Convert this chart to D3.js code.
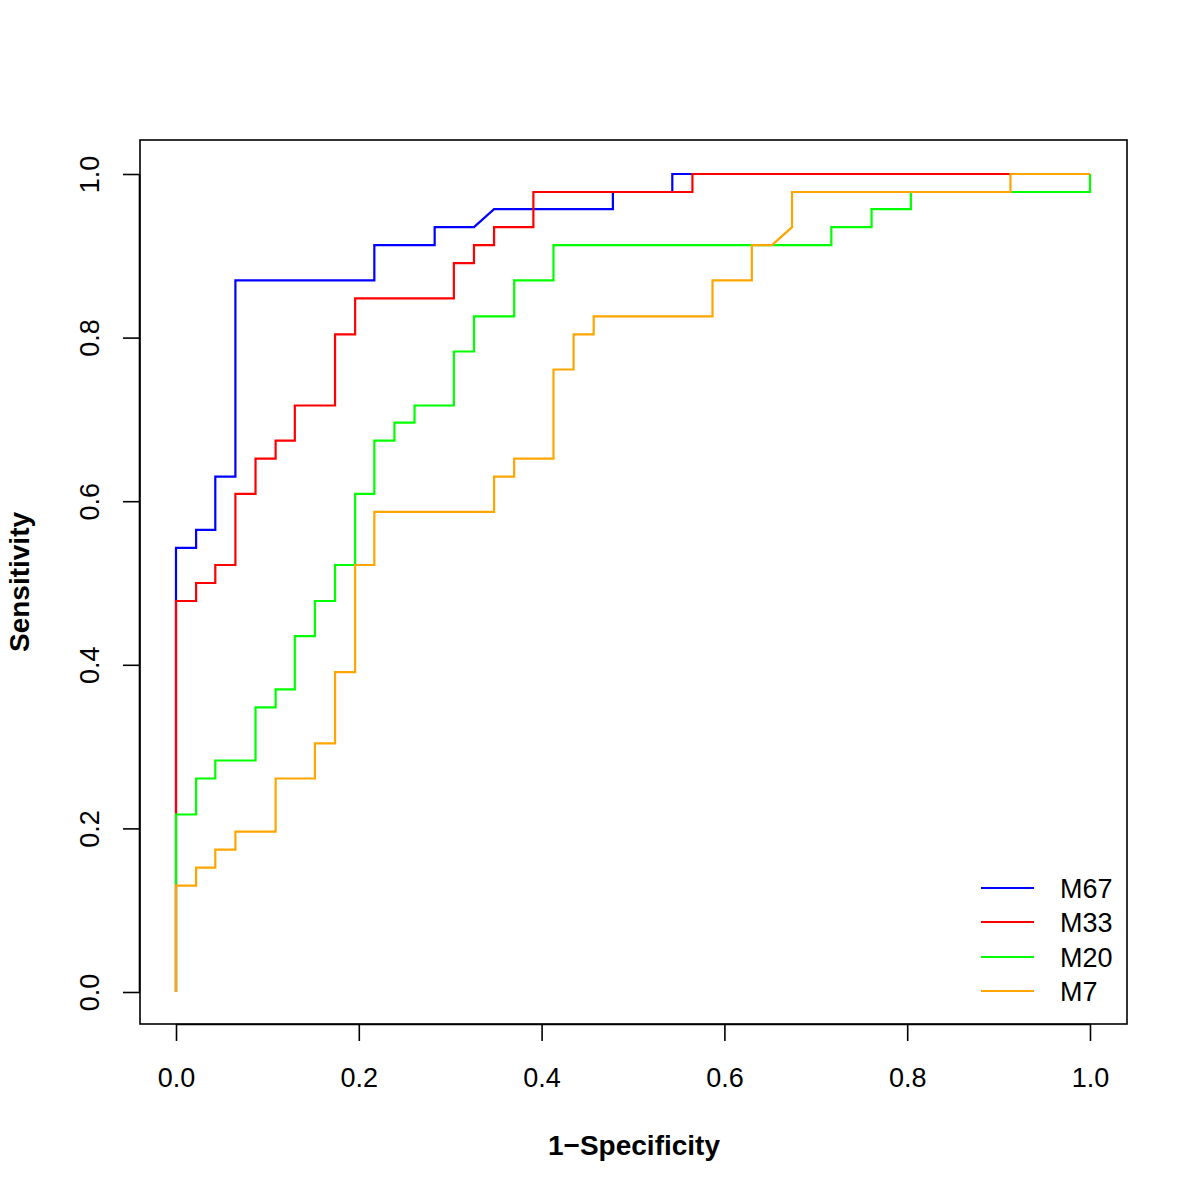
<!DOCTYPE html>
<html><head><meta charset="utf-8">
<script src="https://cdn.jsdelivr.net/npm/d3@7"></script>
<style>body{margin:0;background:#fff}svg{display:block}text{font-family:"Liberation Sans",Arial,Helvetica,sans-serif}</style>
</head><body>
<script>
const seriesNames = ["M67", "M33", "M20", "M7"];
const seriesColors = ["#0000FF", "#FF0000", "#00FF00", "#FFA500"];
const xTicks = [0.0, 0.2, 0.4, 0.6, 0.8, 1.0];
const yTicks = [0.0, 0.2, 0.4, 0.6, 0.8, 1.0];

const m67_fpr = [0,0,0.022,0.022,0.043,0.043,0.065,0.065,0.217,0.217,0.283,0.283,0.326,0.348,0.478,0.478,0.543,0.543,1];
const m67_tpr = [0,0.543,0.543,0.565,0.565,0.630,0.630,0.870,0.870,0.913,0.913,0.935,0.935,0.957,0.957,0.978,0.978,1,1];

const m33_fpr = [0,0,0.022,0.022,0.043,0.043,0.065,0.065,0.087,0.087,0.109,0.109,0.130,0.130,0.174,0.174,0.196,0.196,0.304,0.304,0.326,0.326,0.348,0.348,0.391,0.391,0.565,0.565,1];
const m33_tpr = [0,0.478,0.478,0.500,0.500,0.522,0.522,0.609,0.609,0.652,0.652,0.674,0.674,0.717,0.717,0.804,0.804,0.848,0.848,0.891,0.891,0.913,0.913,0.935,0.935,0.978,0.978,1,1];

const m20_fpr = [0,0,0.022,0.022,0.043,0.043,0.087,0.087,0.109,0.109,0.130,0.130,0.152,0.152,0.174,0.174,0.196,0.196,0.217,0.217,0.239,0.239,0.261,0.261,0.304,0.304,0.326,0.326,0.370,0.370,0.413,0.413,0.717,0.717,0.761,0.761,0.804,0.804,1,1];
const m20_tpr = [0,0.217,0.217,0.261,0.261,0.283,0.283,0.348,0.348,0.370,0.370,0.435,0.435,0.478,0.478,0.522,0.522,0.609,0.609,0.674,0.674,0.696,0.696,0.717,0.717,0.783,0.783,0.826,0.826,0.870,0.870,0.913,0.913,0.935,0.935,0.957,0.957,0.978,0.978,1];

const m7_fpr = [0,0,0.022,0.022,0.043,0.043,0.065,0.065,0.109,0.109,0.152,0.152,0.174,0.174,0.196,0.196,0.217,0.217,0.348,0.348,0.370,0.370,0.413,0.413,0.435,0.435,0.457,0.457,0.587,0.587,0.630,0.630,0.652,0.674,0.674,0.913,0.913,1];
const m7_tpr = [0,0.130,0.130,0.152,0.152,0.174,0.174,0.196,0.196,0.261,0.261,0.304,0.304,0.391,0.391,0.522,0.522,0.587,0.587,0.630,0.630,0.652,0.652,0.761,0.761,0.804,0.804,0.826,0.826,0.870,0.870,0.913,0.913,0.935,0.978,0.978,1,1];

const seriesFpr = [m67_fpr, m33_fpr, m20_fpr, m7_fpr];
const seriesTpr = [m67_tpr, m33_tpr, m20_tpr, m7_tpr];

const W = 1200, H = 1200;
const box = {left: 140, right: 1127, top: 140, bottom: 1024};
const x = d3.scaleLinear().domain([0, 1]).range([176, 1090]);
const y = d3.scaleLinear().domain([0, 1]).range([992, 174]);

const svg = d3.select("body").append("svg").attr("width", W).attr("height", H);
svg.append("rect").attr("width", W).attr("height", H).attr("fill", "#fff");

const line = d3.line().x(d => x(d[0])).y(d => y(d[1]));
seriesNames.forEach((n, i) => {
  const pts = seriesFpr[i].map((v, j) => [v, seriesTpr[i][j]]);
  svg.append("path").datum(pts).attr("d", line)
    .attr("fill", "none").attr("stroke", seriesColors[i]).attr("stroke-width", 2.2)
    .attr("stroke-linejoin", "miter").attr("stroke-linecap", "butt");
});

// box
svg.append("rect").attr("x", box.left).attr("y", box.top)
  .attr("width", box.right - box.left).attr("height", box.bottom - box.top)
  .attr("fill", "none").attr("stroke", "#000").attr("stroke-width", 1.6);

// x axis
const xAxis = d3.axisBottom(x).tickValues(xTicks).tickFormat(d3.format(".1f")).tickSize(17).tickPadding(46);
const gx = svg.append("g").attr("transform", `translate(0,${box.bottom})`).call(xAxis);
gx.select(".domain").attr("d", `M${x(0)},0.5H${x(1)}`).attr("stroke", "#000").attr("stroke-width", 1.6);
gx.selectAll(".tick line").attr("stroke", "#000").attr("stroke-width", 1.6);
gx.selectAll(".tick text").attr("font-size", 27).attr("fill", "#000")
  .attr("font-family", "'Liberation Sans', Arial, sans-serif")
  .attr("dy", 0);

// y axis
const yAxis = d3.axisLeft(y).tickValues(yTicks).tickFormat(d3.format(".1f")).tickSize(17).tickPadding(0);
const gy = svg.append("g").attr("transform", `translate(${box.left},0)`).call(yAxis);
gy.select(".domain").attr("d", `M-0.5,${y(0)}V${y(1)}`).attr("stroke", "#000").attr("stroke-width", 1.6);
gy.selectAll(".tick line").attr("stroke", "#000").attr("stroke-width", 1.6);
gy.selectAll(".tick text").attr("font-size", 27).attr("fill", "#000")
  .attr("font-family", "'Liberation Sans', Arial, sans-serif")
  .attr("text-anchor", "middle")
  .attr("x", 0).attr("y", 0).attr("dy", 0)
  .attr("transform", "translate(-41,0) rotate(-90)");

// axis titles
svg.append("text").attr("x", 634).attr("y", 1155).attr("text-anchor", "middle")
  .attr("font-size", 28).attr("font-weight", "bold").text("1\u2212Specificity");
svg.append("text").attr("transform", "translate(29,582) rotate(-90)").attr("text-anchor", "middle")
  .attr("font-size", 28).attr("font-weight", "bold").text("Sensitivity");

// legend
const legendY = [888, 922, 957, 991];
seriesNames.forEach((n, i) => {
  svg.append("line").attr("x1", 981).attr("x2", 1034).attr("y1", legendY[i]).attr("y2", legendY[i])
    .attr("stroke", seriesColors[i]).attr("stroke-width", 2.2);
  svg.append("text").attr("x", 1060).attr("y", legendY[i]).attr("dy", "0.36em")
    .attr("font-size", 27).attr("fill", "#000").text(n);
});
</script>
</body></html>
